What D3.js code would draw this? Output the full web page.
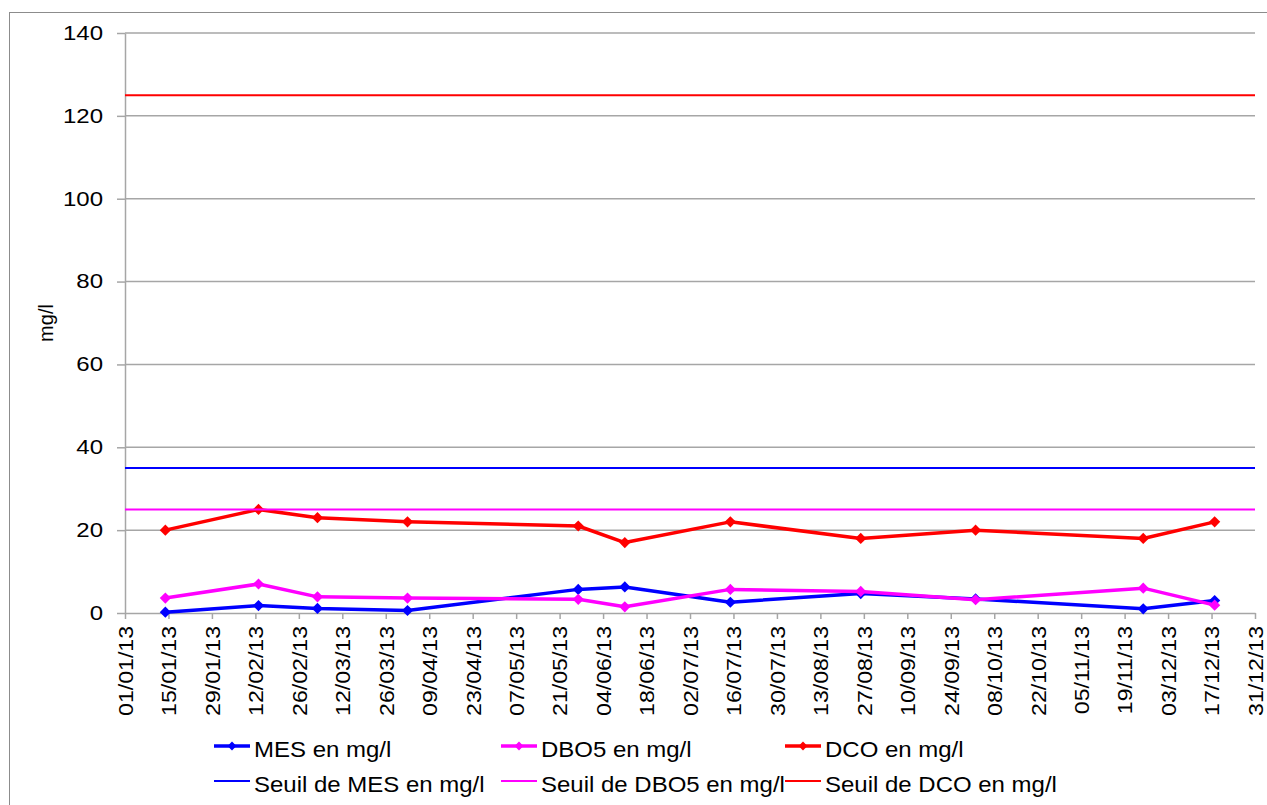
<!DOCTYPE html>
<html>
<head>
<meta charset="utf-8">
<script src="https://cdn.jsdelivr.net/npm/d3@7"></script>
<style>
  body { margin: 0; background: #fff; }
  svg { display: block; font-family: "Liberation Sans", Arial, sans-serif; }
</style>
</head>
<body>
<div id="chart"></div>
<script>
// sampling dates (dd/mm/yy)
const dates = ["14/01/13", "13/02/13", "04/03/13", "02/04/13", "27/05/13", "11/06/13",
               "15/07/13", "26/08/13", "02/10/13", "25/11/13", "18/12/13"]
const mes  = [0.2, 1.8, 1.1, 0.6, 5.7, 6.3, 2.6, 4.7, 3.4, 1.0, 3.0]
const dbo5 = [3.6, 7.0, 3.9, 3.6, 3.3, 1.5, 5.7, 5.2, 3.2, 6.0, 1.9]
const dco  = [20, 25, 23, 22, 21, 17, 22, 18, 20, 18, 22]

const seuilMes = 35
const seuilDbo5 = 25
const seuilDco = 125

const yTicks = [0, 20, 40, 60, 80, 100, 120, 140]
const xStart = "01/01/13", xEnd = "31/12/13"
const xStepDays = 14

const W = 1267, H = 805
const PLOT = { LEFT: 125, RIGHT: 1255, TOP: 33, BOTTOM: 613 }

const parse = d3.utcParse("%d/%m/%y")
const fmt = d3.utcFormat("%d/%m/%y")

const series = [
  { name: "MES en mg/l", color: "#0000ff", values: mes },
  { name: "DBO5 en mg/l", color: "#ff00ff", values: dbo5 },
  { name: "DCO en mg/l", color: "#ff0000", values: dco }
]
const seuils = [
  { name: "Seuil de MES en mg/l", color: "#0000ff", value: seuilMes },
  { name: "Seuil de DBO5 en mg/l", color: "#ff00ff", value: seuilDbo5 },
  { name: "Seuil de DCO en mg/l", color: "#ff0000", value: seuilDco }
]

// the original font runs a bit wider than Liberation Sans
function stretch(sel, k) {
  sel.each(function() {
    const len = this.getComputedTextLength()
    d3.select(this).attr("textLength", len * k).attr("lengthAdjust", "spacingAndGlyphs")
  })
}

const svg = d3.select("#chart").append("svg")
  .attr("width", W).attr("height", H)

// chart area frame
svg.append("rect")
  .attr("x", 9.5).attr("y", 12.5)
  .attr("width", W + 20).attr("height", H + 20)
  .attr("fill", "none").attr("stroke", "#8c8c8c").attr("stroke-width", 1)

const x = d3.scaleUtc()
  .domain([parse(xStart), parse(xEnd)])
  .range([PLOT.LEFT, PLOT.RIGHT])

const y = d3.scaleLinear()
  .domain([0, 140])
  .range([PLOT.BOTTOM, PLOT.TOP])

// gridlines
svg.append("g")
  .selectAll("line")
  .data(yTicks.filter(d => d > 0))
  .join("line")
    .attr("x1", PLOT.LEFT).attr("x2", PLOT.RIGHT)
    .attr("y1", d => y(d)).attr("y2", d => y(d))
    .attr("stroke", "#a6a6a6").attr("stroke-width", 1.5)

// y axis
const yAxis = svg.append("g")
  .attr("transform", `translate(${PLOT.LEFT},0)`)
  .call(d3.axisLeft(y).tickValues(yTicks).tickSize(8).tickPadding(14).tickSizeOuter(0))
yAxis.select(".domain").attr("stroke", "#a6a6a6").attr("stroke-width", 1.5)
yAxis.selectAll(".tick line").attr("stroke", "#a6a6a6").attr("stroke-width", 1.5)
yAxis.selectAll("text")
  .attr("x", -22)
  .attr("font-size", 20).attr("fill", "#000")
  .attr("font-family", "Liberation Sans, Arial, sans-serif")
  .call(stretch, 1.2)

// x axis, a tick every 14 days
const t0 = parse(xStart)
const nSteps = Math.round(d3.utcDay.count(t0, parse(xEnd)) / xStepDays)
const xTicks = d3.range(nSteps + 1).map(i => d3.utcDay.offset(t0, i * xStepDays))
const xAxis = svg.append("g")
  .attr("transform", `translate(0,${PLOT.BOTTOM})`)
  .call(d3.axisBottom(x).tickValues(xTicks).tickFormat(fmt).tickSize(6).tickSizeOuter(0))
xAxis.select(".domain").attr("stroke", "#a6a6a6").attr("stroke-width", 1.5)
xAxis.selectAll(".tick line").attr("stroke", "#a6a6a6").attr("stroke-width", 1.5)
xAxis.selectAll("text")
  .attr("transform", "rotate(-90)")
  .attr("x", -13).attr("y", 0).attr("dy", "0.35em")
  .attr("text-anchor", "end")
  .attr("font-size", 21).attr("fill", "#000")
  .attr("font-family", "Liberation Sans, Arial, sans-serif")
  .call(stretch, 1.1)

// y title
svg.append("text")
  .attr("transform", `translate(53,${(PLOT.TOP + PLOT.BOTTOM) / 2}) rotate(-90)`)
  .attr("text-anchor", "middle")
  .attr("font-size", 20)
  .text("mg/l")

const diamond = d3.symbol().type(d3.symbolDiamond2).size(80)

const line = d3.line()
  .x(d => x(d.date))
  .y(d => y(d.value))

series.forEach(s => {
  const pts = dates.map((d, i) => ({ date: parse(d), value: s.values[i] }))
  svg.append("path")
    .datum(pts)
    .attr("d", line)
    .attr("fill", "none")
    .attr("stroke", s.color)
    .attr("stroke-width", 3.5)
    .attr("stroke-linejoin", "round")
  svg.append("g").selectAll("path")
    .data(pts)
    .join("path")
      .attr("d", diamond)
      .attr("transform", d => `translate(${x(d.date)},${y(d.value)})`)
      .attr("fill", s.color)
})

seuils.forEach(s => {
  svg.append("line")
    .attr("x1", PLOT.LEFT).attr("x2", PLOT.RIGHT)
    .attr("y1", y(s.value)).attr("y2", y(s.value))
    .attr("stroke", s.color).attr("stroke-width", 2)
})

// legend
const legX = [254, 541, 825]
const legY = [746, 781]
const legend = svg.append("g")
const legDiamond = d3.symbol().type(d3.symbolDiamond2).size(50)
series.forEach((s, i) => {
  const g = legend.append("g").attr("transform", `translate(${legX[i]},${legY[0]})`)
  g.append("line").attr("x1", -40).attr("x2", -4)
    .attr("stroke", s.color).attr("stroke-width", 3.5)
  g.append("path").attr("d", legDiamond).attr("transform", "translate(-22,0)").attr("fill", s.color)
  g.append("text").attr("y", 3.5).attr("dy", "0.35em").attr("font-size", 22).text(s.name)
    .call(stretch, 1.09)
})
seuils.forEach((s, i) => {
  const g = legend.append("g").attr("transform", `translate(${legX[i]},${legY[1]})`)
  g.append("line").attr("x1", -40).attr("x2", -4)
    .attr("stroke", s.color).attr("stroke-width", 2)
  g.append("text").attr("y", 3.5).attr("dy", "0.35em").attr("font-size", 22).text(s.name)
    .call(stretch, 1.09)
})
</script>
</body>
</html>
